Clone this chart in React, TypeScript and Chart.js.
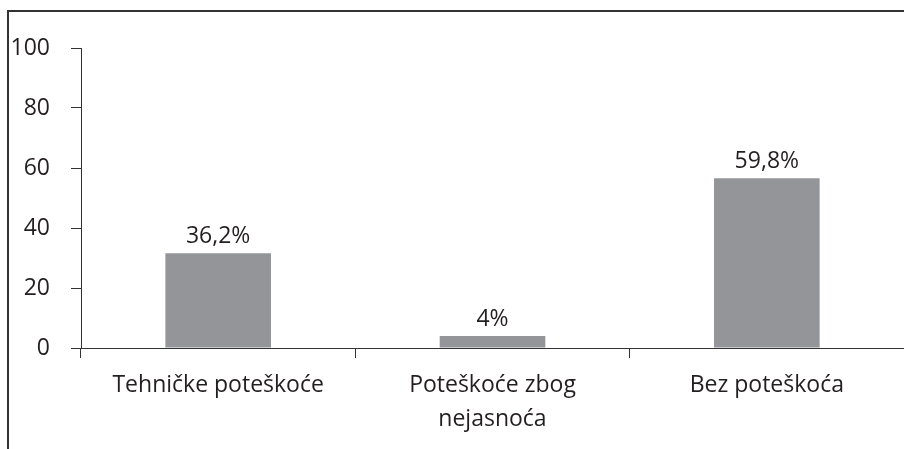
import React, { useEffect, useRef } from "react";
import { Chart, registerables } from "chart.js";

Chart.register(...registerables);

const categories: (string | string[])[] = [
  "Tehničke poteškoće",
  ["Poteškoće zbog", "nejasnoća"],
  "Bez poteškoća",
];
const barValues = [31.6, 4.0, 56.6];
const valueLabels = ["36,2%", "4%", "59,8%"];
const yTicks = [0, 20, 40, 60, 80, 100];

const TEXT = "#231f20";
const FONT = "'Open Sans', 'Noto Sans', sans-serif";

const framePlugin = {
  id: "frame",
  beforeDraw(chart: any) {
    const ctx = chart.ctx;
    ctx.save();
    ctx.strokeStyle = "#333333";
    ctx.lineWidth = 2;
    ctx.beginPath();
    ctx.moveTo(8, chart.height);
    ctx.lineTo(8, 11);
    ctx.lineTo(chart.width, 11);
    ctx.stroke();
    ctx.restore();
  },
};

const valueLabelPlugin = {
  id: "valueLabels",
  afterDatasetsDraw(chart: any) {
    const ctx = chart.ctx;
    const meta = chart.getDatasetMeta(0);
    ctx.save();
    ctx.fillStyle = TEXT;
    ctx.font = `23px ${FONT}`;
    ctx.textAlign = "center";
    ctx.textBaseline = "alphabetic";
    meta.data.forEach((bar: any, i: number) => {
      ctx.fillText(valueLabels[i], bar.x, bar.y - 10);
    });
    ctx.restore();
  },
};

export default function App() {
  const ref = useRef<HTMLCanvasElement | null>(null);
  useEffect(() => {
    if (!ref.current) return;
    const chart = new Chart(ref.current, {
      type: "bar",
      data: {
        labels: categories as any,
        datasets: [
          {
            data: barValues,
            backgroundColor: "#939598",
            borderWidth: 0,
            barPercentage: 0.77,
            categoryPercentage: 0.5,
          },
        ],
      },
      options: {
        animation: false,
        responsive: false,
        maintainAspectRatio: false,
        layout: { padding: { top: 48, right: 0, left: 0, bottom: 0 } },
        plugins: {
          legend: { display: false },
          tooltip: { enabled: false },
        },
        scales: {
          x: {
            grid: {
              drawOnChartArea: false,
              drawTicks: true,
              tickLength: 10,
              color: "#333333",
              offset: true,
            },
            border: { color: "#333333", width: 1 },
            ticks: {
              color: TEXT,
              font: { family: FONT, size: 23, lineHeight: 1.45 },
              padding: 11,
              maxRotation: 0,
              autoSkip: false,
            },
            afterFit(scale: any) {
              scale.height = 101;
            },
          },
          y: {
            min: 0,
            max: 100,
            afterBuildTicks(scale: any) {
              scale.ticks = yTicks.map((v) => ({ value: v }));
            },
            grid: {
              drawOnChartArea: false,
              drawTicks: true,
              tickLength: 10,
              color: "#333333",
            },
            border: { color: "#333333", width: 1 },
            ticks: {
              color: TEXT,
              font: { family: FONT, size: 23 },
              padding: 21,
            },
            afterFit(scale: any) {
              scale.width = 81;
            },
          },
        },
      },
      plugins: [framePlugin, valueLabelPlugin],
    });
    return () => chart.destroy();
  }, []);
  return (
    <div style={{ position: "absolute", left: 0, top: 0, width: 904, height: 449, background: "#fff" }}>
      <canvas ref={ref} width={904} height={449} style={{ width: 904, height: 449, display: "block" }} />
    </div>
  );
}
